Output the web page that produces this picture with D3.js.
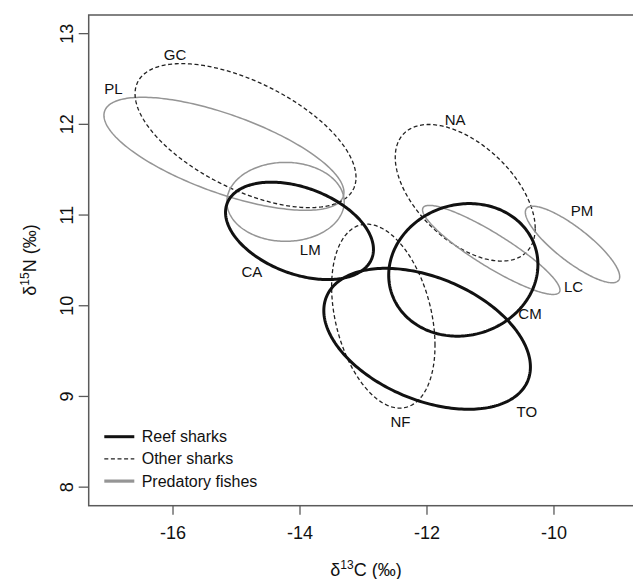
<!DOCTYPE html>
<html><head><meta charset="utf-8">
<script src="https://cdn.jsdelivr.net/npm/d3@7"></script>
<style>body{margin:0;background:#fff}svg{display:block;font-family:"Liberation Sans",Arial,sans-serif}</style>
</head><body><svg id="c" width="633" height="579"></svg>
<script>
// Ellipse data (delta13C centre, delta15N centre, x half-extent, y half-extent, correlation)
const names   = ["PL","GC","LM","CA","NF","TO","CM","NA","LC","PM"];
const groups  = ["fish","other","fish","reef","other","reef","reef","other","fish","fish"];
const cxVals  = [-15.19,-14.85,-14.22,-14.00,-12.68,-11.99,-11.42,-11.39,-10.98,-9.70];
const cyVals  = [11.67,11.87,11.14,10.82,9.88,9.63,10.39,11.24,10.61,10.67];
const sxVals  = [1.89,1.74,0.924,1.165,0.814,1.627,1.175,1.102,1.082,0.743];
const syVals  = [0.623,0.794,0.435,0.537,1.014,0.777,0.731,0.753,0.491,0.422];
const rhoVals = [-0.68,-0.58,0.0,-0.38,-0.32,-0.40,0.08,-0.52,-0.90,-0.84];
const labelX  = [-16.93,-15.96,-13.83,-14.75,-12.41,-10.42,-10.37,-11.55,-9.685,-9.55];
const labelY  = [12.39,12.77,10.62,10.37,8.72,8.83,9.91,12.05,10.21,11.04];
const xTicks  = [-16,-14,-12,-10];
const yTicks  = [8,9,10,11,12,13];
const legendLabels = ["Reef sharks","Other sharks","Predatory fishes"];
const legendGroups = ["reef","other","fish"];

const style = {
  reef:  {stroke:"#111", width:3, dash:null, lw:3},
  other: {stroke:"#222", width:1.3, dash:"4,2.6", lw:1.3},
  fish:  {stroke:"#959595", width:1.5, dash:null, lw:3.2}
};

const svg = d3.select("#c");
const x = d3.scaleLinear().domain([-17.32,-8.59]).range([88.7,643]);
const y = d3.scaleLinear().domain([7.79,13.2]).range([505.7,15]);

// frame
const axisCol = "#5a5a5a";
svg.append("rect").attr("x",x.range()[0]).attr("y",y.range()[1])
  .attr("width",x.range()[1]-x.range()[0]).attr("height",y.range()[0]-y.range()[1])
  .attr("fill","none").attr("stroke",axisCol).attr("stroke-width",1.5);

// axes
const xAxis = svg.append("g").attr("transform",`translate(0,${y.range()[0]})`)
  .call(d3.axisBottom(x).tickValues(xTicks).tickSize(9).tickSizeOuter(0).tickPadding(12).tickFormat(d=>d3.format("d")(d).replace("−","-")));
xAxis.select(".domain").remove();
xAxis.selectAll("line").attr("stroke",axisCol).attr("stroke-width",1.3);
xAxis.selectAll("text").attr("font-size",18).attr("fill","#111").attr("font-family","Liberation Sans, Arial, sans-serif");

const yAxis = svg.append("g").attr("transform",`translate(${x.range()[0]},0)`)
  .call(d3.axisLeft(y).tickValues(yTicks).tickSize(10).tickSizeOuter(0).tickFormat(d3.format("d")));
yAxis.select(".domain").remove();
yAxis.selectAll("line").attr("stroke",axisCol).attr("stroke-width",1.3);
yAxis.selectAll("text").attr("font-size",18).attr("fill","#111")
  .attr("font-family","Liberation Sans, Arial, sans-serif")
  .attr("text-anchor","middle").attr("dy",null).attr("x",null)
  .attr("transform",function(){ return `translate(-16,0) rotate(-90)`; })
  .attr("dominant-baseline","auto").attr("y",0);

// ellipses
const line = d3.line().x(p=>x(p[0])).y(p=>y(p[1])).curve(d3.curveLinearClosed);
function ell(i){
  const pts=[]; const n=240; const r=rhoVals[i]; const q=Math.sqrt(1-r*r);
  for(let k=0;k<n;k++){const t=2*Math.PI*k/n;
    pts.push([cxVals[i]+sxVals[i]*Math.cos(t), cyVals[i]+syVals[i]*(r*Math.cos(t)+q*Math.sin(t))]);}
  return pts;
}
const order = [0,1,2,7,8,9,4,3,5,6];
order.forEach(i=>{
  const s=style[groups[i]];
  svg.append("path").attr("d",line(ell(i))).attr("fill","none")
    .attr("stroke",s.stroke).attr("stroke-width",s.width)
    .attr("stroke-dasharray",s.dash);
});

// labels
names.forEach((nm,i)=>{
  svg.append("text").attr("x",x(labelX[i])).attr("y",y(labelY[i]))
    .attr("text-anchor","middle").attr("dominant-baseline","central")
    .attr("font-size",15).attr("fill","#111").text(nm);
});

// legend
legendLabels.forEach((lab,i)=>{
  const s=style[legendGroups[i]];
  const ly=436.7+i*22.2;
  svg.append("line").attr("x1",104.3).attr("x2",134.3).attr("y1",ly).attr("y2",ly)
    .attr("stroke",s.stroke).attr("stroke-width",s.lw).attr("stroke-dasharray",s.dash);
  svg.append("text").attr("x",141.7).attr("y",ly).attr("dominant-baseline","central")
    .attr("font-size",16).attr("fill","#111").text(lab);
});

// axis titles
const xt = svg.append("text").attr("x",366).attr("y",576).attr("text-anchor","middle")
  .attr("font-size",18).attr("fill","#111");
xt.append("tspan").text("δ");
xt.append("tspan").attr("font-size",12).attr("dy",-7).text("13");
xt.append("tspan").attr("dy",7).text("C (‰)");

const yt = svg.append("text").attr("transform","translate(36,260) rotate(-90)")
  .attr("text-anchor","middle").attr("font-size",18).attr("fill","#111");
yt.append("tspan").text("δ");
yt.append("tspan").attr("font-size",12).attr("dy",-7).text("15");
yt.append("tspan").attr("dy",7).text("N (‰)");
</script></body></html>
